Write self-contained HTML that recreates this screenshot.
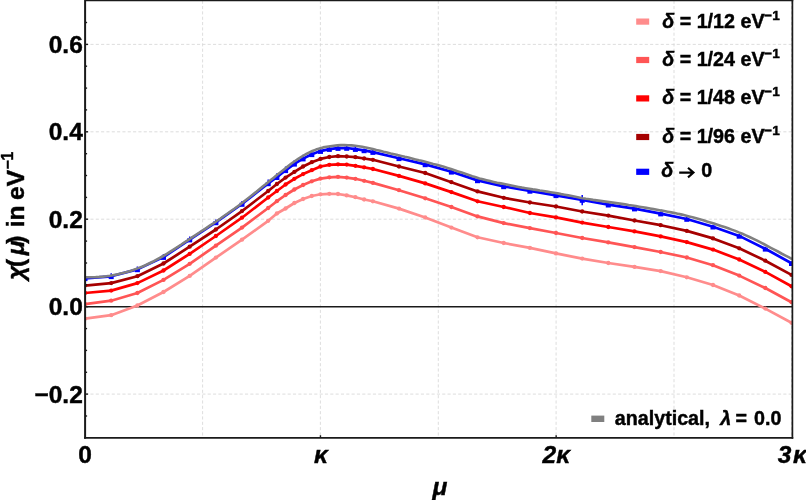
<!DOCTYPE html>
<html><head><meta charset="utf-8"><title>chart</title>
<style>html,body{margin:0;padding:0;background:#fff;}body{width:806px;height:500px;position:relative;overflow:hidden;font-family:"Liberation Sans",sans-serif;}</style>
</head><body>
<svg width="806" height="500" viewBox="0 0 806 500" style="position:absolute;left:0;top:0">
<rect x="0" y="0" width="806" height="500" fill="#fff"/>
<g stroke="#d4d4d4" stroke-width="0.8" stroke-dasharray="3.1 2.23" fill="none">
<line x1="202.6" y1="0.7" x2="202.6" y2="437.9"/>
<line x1="320.4" y1="0.7" x2="320.4" y2="437.9"/>
<line x1="438.3" y1="0.7" x2="438.3" y2="437.9"/>
<line x1="556.1" y1="0.7" x2="556.1" y2="437.9"/>
<line x1="674.0" y1="0.7" x2="674.0" y2="437.9"/>
<line x1="791.5" y1="0.7" x2="791.5" y2="437.9"/>
<line x1="85.1" y1="44.4" x2="792.4" y2="44.4"/>
<line x1="85.1" y1="131.8" x2="792.4" y2="131.8"/>
<line x1="85.1" y1="219.2" x2="792.4" y2="219.2"/>
<line x1="85.1" y1="394.1" x2="792.4" y2="394.1"/>
</g>
<line x1="85.1" y1="306.7" x2="792.4" y2="306.7" stroke="#1a1a1a" stroke-width="1.5"/>
<clipPath id="cp"><rect x="85.1" y="0.7" width="707.8" height="437.2"/></clipPath>
<g clip-path="url(#cp)">
<path d="M85.0 318.7 L111.2 315.2 L137.4 305.5 L163.5 292.0 L189.7 275.9 L215.9 257.6 L242.0 239.7 L268.2 220.8 L276.9 213.5 L285.6 208.5 L294.4 203.0 L303.1 199.0 L311.8 196.0 L320.5 194.3 L329.3 193.8 L338.0 194.0 L346.7 195.4 L355.4 197.2 L364.1 199.5 L372.9 201.3 L399.0 208.6 L425.2 217.5 L451.4 227.6 L477.5 237.3 L503.7 243.0 L529.9 247.9 L556.0 253.4 L582.2 258.6 L608.3 263.0 L634.5 266.9 L660.7 271.1 L686.8 277.3 L713.0 285.0 L739.2 295.5 L765.3 308.6 L791.5 322.8" fill="none" stroke="#ff8c8c" stroke-width="2.7" stroke-linejoin="round"/>
<circle cx="85.0" cy="318.7" r="2.15" fill="#ff8c8c"/>
<circle cx="111.2" cy="315.2" r="2.15" fill="#ff8c8c"/>
<circle cx="137.4" cy="305.5" r="2.15" fill="#ff8c8c"/>
<circle cx="163.5" cy="292.0" r="2.15" fill="#ff8c8c"/>
<circle cx="189.7" cy="275.9" r="2.15" fill="#ff8c8c"/>
<circle cx="215.9" cy="257.6" r="2.15" fill="#ff8c8c"/>
<circle cx="242.0" cy="239.7" r="2.15" fill="#ff8c8c"/>
<circle cx="268.2" cy="220.8" r="2.15" fill="#ff8c8c"/>
<circle cx="276.9" cy="213.5" r="2.15" fill="#ff8c8c"/>
<circle cx="285.6" cy="208.5" r="2.15" fill="#ff8c8c"/>
<circle cx="294.4" cy="203.0" r="2.15" fill="#ff8c8c"/>
<circle cx="303.1" cy="199.0" r="2.15" fill="#ff8c8c"/>
<circle cx="311.8" cy="196.0" r="2.15" fill="#ff8c8c"/>
<circle cx="320.5" cy="194.3" r="2.15" fill="#ff8c8c"/>
<circle cx="329.3" cy="193.8" r="2.15" fill="#ff8c8c"/>
<circle cx="338.0" cy="194.0" r="2.15" fill="#ff8c8c"/>
<circle cx="346.7" cy="195.4" r="2.15" fill="#ff8c8c"/>
<circle cx="355.4" cy="197.2" r="2.15" fill="#ff8c8c"/>
<circle cx="364.1" cy="199.5" r="2.15" fill="#ff8c8c"/>
<circle cx="372.9" cy="201.3" r="2.15" fill="#ff8c8c"/>
<circle cx="399.0" cy="208.6" r="2.15" fill="#ff8c8c"/>
<circle cx="425.2" cy="217.5" r="2.15" fill="#ff8c8c"/>
<circle cx="451.4" cy="227.6" r="2.15" fill="#ff8c8c"/>
<circle cx="477.5" cy="237.3" r="2.15" fill="#ff8c8c"/>
<circle cx="503.7" cy="243.0" r="2.15" fill="#ff8c8c"/>
<circle cx="529.9" cy="247.9" r="2.15" fill="#ff8c8c"/>
<circle cx="556.0" cy="253.4" r="2.15" fill="#ff8c8c"/>
<circle cx="582.2" cy="258.6" r="2.15" fill="#ff8c8c"/>
<circle cx="608.3" cy="263.0" r="2.15" fill="#ff8c8c"/>
<circle cx="634.5" cy="266.9" r="2.15" fill="#ff8c8c"/>
<circle cx="660.7" cy="271.1" r="2.15" fill="#ff8c8c"/>
<circle cx="686.8" cy="277.3" r="2.15" fill="#ff8c8c"/>
<circle cx="713.0" cy="285.0" r="2.15" fill="#ff8c8c"/>
<circle cx="739.2" cy="295.5" r="2.15" fill="#ff8c8c"/>
<circle cx="765.3" cy="308.6" r="2.15" fill="#ff8c8c"/>
<circle cx="791.5" cy="322.8" r="2.15" fill="#ff8c8c"/>
<path d="M85.0 304.2 L111.2 300.7 L137.4 293.0 L163.5 279.9 L189.7 263.8 L215.9 245.7 L242.0 227.6 L268.2 208.0 L276.9 201.2 L285.6 195.0 L294.4 189.5 L303.1 185.0 L311.8 181.3 L320.5 178.6 L329.3 177.3 L338.0 176.8 L346.7 177.6 L355.4 178.8 L364.1 180.8 L372.9 182.9 L399.0 190.2 L425.2 198.3 L451.4 207.0 L477.5 216.4 L503.7 223.1 L529.9 228.1 L556.0 233.0 L582.2 238.0 L608.3 242.4 L634.5 247.1 L660.7 252.0 L686.8 257.5 L713.0 265.2 L739.2 275.6 L765.3 288.0 L791.5 302.2" fill="none" stroke="#ff5555" stroke-width="2.7" stroke-linejoin="round"/>
<circle cx="85.0" cy="304.2" r="2.15" fill="#ff5555"/>
<circle cx="111.2" cy="300.7" r="2.15" fill="#ff5555"/>
<circle cx="137.4" cy="293.0" r="2.15" fill="#ff5555"/>
<circle cx="163.5" cy="279.9" r="2.15" fill="#ff5555"/>
<circle cx="189.7" cy="263.8" r="2.15" fill="#ff5555"/>
<circle cx="215.9" cy="245.7" r="2.15" fill="#ff5555"/>
<circle cx="242.0" cy="227.6" r="2.15" fill="#ff5555"/>
<circle cx="268.2" cy="208.0" r="2.15" fill="#ff5555"/>
<circle cx="276.9" cy="201.2" r="2.15" fill="#ff5555"/>
<circle cx="285.6" cy="195.0" r="2.15" fill="#ff5555"/>
<circle cx="294.4" cy="189.5" r="2.15" fill="#ff5555"/>
<circle cx="303.1" cy="185.0" r="2.15" fill="#ff5555"/>
<circle cx="311.8" cy="181.3" r="2.15" fill="#ff5555"/>
<circle cx="320.5" cy="178.6" r="2.15" fill="#ff5555"/>
<circle cx="329.3" cy="177.3" r="2.15" fill="#ff5555"/>
<circle cx="338.0" cy="176.8" r="2.15" fill="#ff5555"/>
<circle cx="346.7" cy="177.6" r="2.15" fill="#ff5555"/>
<circle cx="355.4" cy="178.8" r="2.15" fill="#ff5555"/>
<circle cx="364.1" cy="180.8" r="2.15" fill="#ff5555"/>
<circle cx="372.9" cy="182.9" r="2.15" fill="#ff5555"/>
<circle cx="399.0" cy="190.2" r="2.15" fill="#ff5555"/>
<circle cx="425.2" cy="198.3" r="2.15" fill="#ff5555"/>
<circle cx="451.4" cy="207.0" r="2.15" fill="#ff5555"/>
<circle cx="477.5" cy="216.4" r="2.15" fill="#ff5555"/>
<circle cx="503.7" cy="223.1" r="2.15" fill="#ff5555"/>
<circle cx="529.9" cy="228.1" r="2.15" fill="#ff5555"/>
<circle cx="556.0" cy="233.0" r="2.15" fill="#ff5555"/>
<circle cx="582.2" cy="238.0" r="2.15" fill="#ff5555"/>
<circle cx="608.3" cy="242.4" r="2.15" fill="#ff5555"/>
<circle cx="634.5" cy="247.1" r="2.15" fill="#ff5555"/>
<circle cx="660.7" cy="252.0" r="2.15" fill="#ff5555"/>
<circle cx="686.8" cy="257.5" r="2.15" fill="#ff5555"/>
<circle cx="713.0" cy="265.2" r="2.15" fill="#ff5555"/>
<circle cx="739.2" cy="275.6" r="2.15" fill="#ff5555"/>
<circle cx="765.3" cy="288.0" r="2.15" fill="#ff5555"/>
<circle cx="791.5" cy="302.2" r="2.15" fill="#ff5555"/>
<path d="M85.0 293.0 L111.2 290.6 L137.4 283.1 L163.5 270.5 L189.7 253.8 L215.9 236.0 L242.0 217.7 L268.2 197.5 L276.9 191.0 L285.6 184.5 L294.4 178.8 L303.1 174.1 L311.8 170.2 L320.5 166.5 L329.3 164.8 L338.0 164.3 L346.7 164.6 L355.4 165.8 L364.1 167.3 L372.9 169.0 L399.0 175.9 L425.2 183.4 L451.4 192.1 L477.5 201.3 L503.7 207.0 L529.9 213.0 L556.0 217.4 L582.2 222.6 L608.3 227.0 L634.5 231.4 L660.7 236.4 L686.8 242.1 L713.0 249.6 L739.2 259.5 L765.3 271.9 L791.5 286.3" fill="none" stroke="#ff0000" stroke-width="2.7" stroke-linejoin="round"/>
<circle cx="85.0" cy="293.0" r="2.15" fill="#ff0000"/>
<circle cx="111.2" cy="290.6" r="2.15" fill="#ff0000"/>
<circle cx="137.4" cy="283.1" r="2.15" fill="#ff0000"/>
<circle cx="163.5" cy="270.5" r="2.15" fill="#ff0000"/>
<circle cx="189.7" cy="253.8" r="2.15" fill="#ff0000"/>
<circle cx="215.9" cy="236.0" r="2.15" fill="#ff0000"/>
<circle cx="242.0" cy="217.7" r="2.15" fill="#ff0000"/>
<circle cx="268.2" cy="197.5" r="2.15" fill="#ff0000"/>
<circle cx="276.9" cy="191.0" r="2.15" fill="#ff0000"/>
<circle cx="285.6" cy="184.5" r="2.15" fill="#ff0000"/>
<circle cx="294.4" cy="178.8" r="2.15" fill="#ff0000"/>
<circle cx="303.1" cy="174.1" r="2.15" fill="#ff0000"/>
<circle cx="311.8" cy="170.2" r="2.15" fill="#ff0000"/>
<circle cx="320.5" cy="166.5" r="2.15" fill="#ff0000"/>
<circle cx="329.3" cy="164.8" r="2.15" fill="#ff0000"/>
<circle cx="338.0" cy="164.3" r="2.15" fill="#ff0000"/>
<circle cx="346.7" cy="164.6" r="2.15" fill="#ff0000"/>
<circle cx="355.4" cy="165.8" r="2.15" fill="#ff0000"/>
<circle cx="364.1" cy="167.3" r="2.15" fill="#ff0000"/>
<circle cx="372.9" cy="169.0" r="2.15" fill="#ff0000"/>
<circle cx="399.0" cy="175.9" r="2.15" fill="#ff0000"/>
<circle cx="425.2" cy="183.4" r="2.15" fill="#ff0000"/>
<circle cx="451.4" cy="192.1" r="2.15" fill="#ff0000"/>
<circle cx="477.5" cy="201.3" r="2.15" fill="#ff0000"/>
<circle cx="503.7" cy="207.0" r="2.15" fill="#ff0000"/>
<circle cx="529.9" cy="213.0" r="2.15" fill="#ff0000"/>
<circle cx="556.0" cy="217.4" r="2.15" fill="#ff0000"/>
<circle cx="582.2" cy="222.6" r="2.15" fill="#ff0000"/>
<circle cx="608.3" cy="227.0" r="2.15" fill="#ff0000"/>
<circle cx="634.5" cy="231.4" r="2.15" fill="#ff0000"/>
<circle cx="660.7" cy="236.4" r="2.15" fill="#ff0000"/>
<circle cx="686.8" cy="242.1" r="2.15" fill="#ff0000"/>
<circle cx="713.0" cy="249.6" r="2.15" fill="#ff0000"/>
<circle cx="739.2" cy="259.5" r="2.15" fill="#ff0000"/>
<circle cx="765.3" cy="271.9" r="2.15" fill="#ff0000"/>
<circle cx="791.5" cy="286.3" r="2.15" fill="#ff0000"/>
<path d="M85.0 285.6 L111.2 283.1 L137.4 276.2 L163.5 263.5 L189.7 246.7 L215.9 229.5 L242.0 211.1 L268.2 191.0 L276.9 184.0 L285.6 177.6 L294.4 171.9 L303.1 166.5 L311.8 162.2 L320.5 158.9 L329.3 157.0 L338.0 156.2 L346.7 156.5 L355.4 157.2 L364.1 158.5 L372.9 159.8 L399.0 166.5 L425.2 173.0 L451.4 182.2 L477.5 191.4 L503.7 197.8 L529.9 202.5 L556.0 206.5 L582.2 211.5 L608.3 215.6 L634.5 220.5 L660.7 225.2 L686.8 230.9 L713.0 238.4 L739.2 248.3 L765.3 260.7 L791.5 274.9" fill="none" stroke="#a60000" stroke-width="2.7" stroke-linejoin="round"/>
<circle cx="85.0" cy="285.6" r="2.15" fill="#a60000"/>
<circle cx="111.2" cy="283.1" r="2.15" fill="#a60000"/>
<circle cx="137.4" cy="276.2" r="2.15" fill="#a60000"/>
<circle cx="163.5" cy="263.5" r="2.15" fill="#a60000"/>
<circle cx="189.7" cy="246.7" r="2.15" fill="#a60000"/>
<circle cx="215.9" cy="229.5" r="2.15" fill="#a60000"/>
<circle cx="242.0" cy="211.1" r="2.15" fill="#a60000"/>
<circle cx="268.2" cy="191.0" r="2.15" fill="#a60000"/>
<circle cx="276.9" cy="184.0" r="2.15" fill="#a60000"/>
<circle cx="285.6" cy="177.6" r="2.15" fill="#a60000"/>
<circle cx="294.4" cy="171.9" r="2.15" fill="#a60000"/>
<circle cx="303.1" cy="166.5" r="2.15" fill="#a60000"/>
<circle cx="311.8" cy="162.2" r="2.15" fill="#a60000"/>
<circle cx="320.5" cy="158.9" r="2.15" fill="#a60000"/>
<circle cx="329.3" cy="157.0" r="2.15" fill="#a60000"/>
<circle cx="338.0" cy="156.2" r="2.15" fill="#a60000"/>
<circle cx="346.7" cy="156.5" r="2.15" fill="#a60000"/>
<circle cx="355.4" cy="157.2" r="2.15" fill="#a60000"/>
<circle cx="364.1" cy="158.5" r="2.15" fill="#a60000"/>
<circle cx="372.9" cy="159.8" r="2.15" fill="#a60000"/>
<circle cx="399.0" cy="166.5" r="2.15" fill="#a60000"/>
<circle cx="425.2" cy="173.0" r="2.15" fill="#a60000"/>
<circle cx="451.4" cy="182.2" r="2.15" fill="#a60000"/>
<circle cx="477.5" cy="191.4" r="2.15" fill="#a60000"/>
<circle cx="503.7" cy="197.8" r="2.15" fill="#a60000"/>
<circle cx="529.9" cy="202.5" r="2.15" fill="#a60000"/>
<circle cx="556.0" cy="206.5" r="2.15" fill="#a60000"/>
<circle cx="582.2" cy="211.5" r="2.15" fill="#a60000"/>
<circle cx="608.3" cy="215.6" r="2.15" fill="#a60000"/>
<circle cx="634.5" cy="220.5" r="2.15" fill="#a60000"/>
<circle cx="660.7" cy="225.2" r="2.15" fill="#a60000"/>
<circle cx="686.8" cy="230.9" r="2.15" fill="#a60000"/>
<circle cx="713.0" cy="238.4" r="2.15" fill="#a60000"/>
<circle cx="739.2" cy="248.3" r="2.15" fill="#a60000"/>
<circle cx="765.3" cy="260.7" r="2.15" fill="#a60000"/>
<circle cx="791.5" cy="274.9" r="2.15" fill="#a60000"/>
<path d="M85.0 278.3 L111.2 276.3 L137.4 269.4 L163.5 257.1 L189.7 239.6 L215.9 222.4 L242.0 204.0 L268.2 183.4 L276.9 177.2 L285.6 170.3 L294.4 163.8 L303.1 158.6 L311.8 154.3 L320.5 151.1 L329.3 149.1 L338.0 148.1 L346.7 148.0 L355.4 149.1 L364.1 150.4 L372.9 152.1 L399.0 158.3 L425.2 164.4 L451.4 171.8 L477.5 180.4 L503.7 186.4 L529.9 190.9 L556.0 195.3 L582.2 200.0 L608.3 204.7 L634.5 208.6 L660.7 213.6 L686.8 219.0 L713.0 226.7 L739.2 235.9 L765.3 248.8 L791.5 263.2" fill="none" stroke="#0000ff" stroke-width="2.7" stroke-linejoin="round"/>
<line x1="85.0" y1="275.3" x2="85.0" y2="278.3" stroke="#0000ff" stroke-width="1.5"/>
<rect x="82.5" y="277.0" width="5" height="4.1" fill="#0000ff"/>
<line x1="111.2" y1="273.3" x2="111.2" y2="276.3" stroke="#0000ff" stroke-width="1.5"/>
<rect x="108.7" y="275.0" width="5" height="4.1" fill="#0000ff"/>
<line x1="137.4" y1="266.4" x2="137.4" y2="269.4" stroke="#0000ff" stroke-width="1.5"/>
<rect x="134.9" y="268.1" width="5" height="4.1" fill="#0000ff"/>
<line x1="163.5" y1="254.1" x2="163.5" y2="257.1" stroke="#0000ff" stroke-width="1.5"/>
<rect x="161.0" y="255.8" width="5" height="4.1" fill="#0000ff"/>
<line x1="189.7" y1="236.6" x2="189.7" y2="239.6" stroke="#0000ff" stroke-width="1.5"/>
<rect x="187.2" y="238.3" width="5" height="4.1" fill="#0000ff"/>
<line x1="215.9" y1="219.4" x2="215.9" y2="222.4" stroke="#0000ff" stroke-width="1.5"/>
<rect x="213.4" y="221.1" width="5" height="4.1" fill="#0000ff"/>
<line x1="242.0" y1="201.0" x2="242.0" y2="204.0" stroke="#0000ff" stroke-width="1.5"/>
<rect x="239.5" y="202.7" width="5" height="4.1" fill="#0000ff"/>
<line x1="268.2" y1="179.5" x2="268.2" y2="183.4" stroke="#0000ff" stroke-width="1.5"/>
<rect x="265.7" y="182.1" width="5" height="4.1" fill="#0000ff"/>
<line x1="276.9" y1="173.3" x2="276.9" y2="177.2" stroke="#0000ff" stroke-width="1.5"/>
<rect x="274.4" y="175.9" width="5" height="4.1" fill="#0000ff"/>
<line x1="285.6" y1="166.4" x2="285.6" y2="170.3" stroke="#0000ff" stroke-width="1.5"/>
<rect x="283.1" y="169.0" width="5" height="4.1" fill="#0000ff"/>
<line x1="294.4" y1="159.9" x2="294.4" y2="163.8" stroke="#0000ff" stroke-width="1.5"/>
<rect x="291.9" y="162.5" width="5" height="4.1" fill="#0000ff"/>
<line x1="303.1" y1="154.7" x2="303.1" y2="158.6" stroke="#0000ff" stroke-width="1.5"/>
<rect x="300.6" y="157.3" width="5" height="4.1" fill="#0000ff"/>
<line x1="311.8" y1="150.4" x2="311.8" y2="154.3" stroke="#0000ff" stroke-width="1.5"/>
<rect x="309.3" y="153.0" width="5" height="4.1" fill="#0000ff"/>
<line x1="320.5" y1="147.2" x2="320.5" y2="151.1" stroke="#0000ff" stroke-width="1.5"/>
<rect x="318.0" y="149.8" width="5" height="4.1" fill="#0000ff"/>
<line x1="329.3" y1="147.1" x2="329.3" y2="149.1" stroke="#0000ff" stroke-width="1.5"/>
<rect x="326.8" y="147.8" width="5" height="4.1" fill="#0000ff"/>
<line x1="338.0" y1="146.1" x2="338.0" y2="148.1" stroke="#0000ff" stroke-width="1.5"/>
<rect x="335.5" y="146.8" width="5" height="4.1" fill="#0000ff"/>
<line x1="346.7" y1="146.0" x2="346.7" y2="148.0" stroke="#0000ff" stroke-width="1.5"/>
<rect x="344.2" y="146.7" width="5" height="4.1" fill="#0000ff"/>
<line x1="355.4" y1="147.1" x2="355.4" y2="149.1" stroke="#0000ff" stroke-width="1.5"/>
<rect x="352.9" y="147.8" width="5" height="4.1" fill="#0000ff"/>
<line x1="364.1" y1="148.4" x2="364.1" y2="150.4" stroke="#0000ff" stroke-width="1.5"/>
<rect x="361.6" y="149.1" width="5" height="4.1" fill="#0000ff"/>
<line x1="372.9" y1="150.1" x2="372.9" y2="152.1" stroke="#0000ff" stroke-width="1.5"/>
<rect x="370.4" y="150.8" width="5" height="4.1" fill="#0000ff"/>
<line x1="399.0" y1="156.3" x2="399.0" y2="158.3" stroke="#0000ff" stroke-width="1.5"/>
<rect x="396.5" y="157.0" width="5" height="4.1" fill="#0000ff"/>
<line x1="425.2" y1="162.4" x2="425.2" y2="164.4" stroke="#0000ff" stroke-width="1.5"/>
<rect x="422.7" y="163.1" width="5" height="4.1" fill="#0000ff"/>
<line x1="451.4" y1="169.8" x2="451.4" y2="171.8" stroke="#0000ff" stroke-width="1.5"/>
<rect x="448.9" y="170.5" width="5" height="4.1" fill="#0000ff"/>
<line x1="477.5" y1="178.4" x2="477.5" y2="180.4" stroke="#0000ff" stroke-width="1.5"/>
<rect x="475.0" y="179.1" width="5" height="4.1" fill="#0000ff"/>
<line x1="503.7" y1="184.4" x2="503.7" y2="186.4" stroke="#0000ff" stroke-width="1.5"/>
<rect x="501.2" y="185.1" width="5" height="4.1" fill="#0000ff"/>
<line x1="529.9" y1="188.9" x2="529.9" y2="190.9" stroke="#0000ff" stroke-width="1.5"/>
<rect x="527.4" y="189.6" width="5" height="4.1" fill="#0000ff"/>
<line x1="556.0" y1="193.3" x2="556.0" y2="195.3" stroke="#0000ff" stroke-width="1.5"/>
<rect x="553.5" y="194.0" width="5" height="4.1" fill="#0000ff"/>
<line x1="582.2" y1="195.0" x2="582.2" y2="205.2" stroke="#0000ff" stroke-width="1.5"/>
<rect x="579.7" y="198.7" width="5" height="4.1" fill="#0000ff"/>
<line x1="608.3" y1="202.7" x2="608.3" y2="204.7" stroke="#0000ff" stroke-width="1.5"/>
<rect x="605.8" y="203.4" width="5" height="4.1" fill="#0000ff"/>
<line x1="634.5" y1="206.6" x2="634.5" y2="208.6" stroke="#0000ff" stroke-width="1.5"/>
<rect x="632.0" y="207.3" width="5" height="4.1" fill="#0000ff"/>
<line x1="660.7" y1="211.6" x2="660.7" y2="213.6" stroke="#0000ff" stroke-width="1.5"/>
<rect x="658.2" y="212.3" width="5" height="4.1" fill="#0000ff"/>
<line x1="686.8" y1="217.0" x2="686.8" y2="219.0" stroke="#0000ff" stroke-width="1.5"/>
<rect x="684.3" y="217.7" width="5" height="4.1" fill="#0000ff"/>
<line x1="713.0" y1="224.7" x2="713.0" y2="226.7" stroke="#0000ff" stroke-width="1.5"/>
<rect x="710.5" y="225.4" width="5" height="4.1" fill="#0000ff"/>
<line x1="739.2" y1="233.9" x2="739.2" y2="235.9" stroke="#0000ff" stroke-width="1.5"/>
<rect x="736.7" y="234.6" width="5" height="4.1" fill="#0000ff"/>
<line x1="765.3" y1="246.8" x2="765.3" y2="248.8" stroke="#0000ff" stroke-width="1.5"/>
<rect x="762.8" y="247.5" width="5" height="4.1" fill="#0000ff"/>
<line x1="791.5" y1="261.2" x2="791.5" y2="263.2" stroke="#0000ff" stroke-width="1.5"/>
<rect x="789.0" y="261.9" width="5" height="4.1" fill="#0000ff"/>
<path d="M85.0 277.2 L88.6 277.3 L92.2 277.2 L95.7 277.1 L99.3 276.9 L102.8 276.6 L106.4 276.2 L109.9 275.7 L113.5 275.1 L117.0 274.4 L120.6 273.6 L124.1 272.8 L127.7 271.8 L131.2 270.7 L134.8 269.4 L138.3 268.1 L141.9 266.7 L145.5 265.2 L149.0 263.5 L152.6 261.8 L156.1 259.9 L159.7 258.0 L163.2 256.0 L166.8 253.9 L170.3 251.7 L173.9 249.4 L177.4 247.1 L181.0 244.8 L184.5 242.4 L188.1 240.1 L191.6 237.7 L195.2 235.4 L198.7 233.0 L202.3 230.7 L205.9 228.3 L209.4 225.9 L213.0 223.6 L216.5 221.2 L220.1 218.8 L223.6 216.3 L227.2 213.8 L230.7 211.3 L234.3 208.8 L237.8 206.2 L241.4 203.5 L244.9 200.8 L248.5 198.0 L252.0 195.2 L255.6 192.4 L259.1 189.5 L262.7 186.6 L266.3 183.7 L269.8 180.8 L273.4 177.9 L276.9 175.0 L280.5 172.2 L284.0 169.4 L287.6 166.6 L291.1 163.8 L294.7 161.2 L298.2 158.8 L301.8 156.6 L305.3 154.5 L308.9 152.7 L312.4 151.0 L316.0 149.6 L319.6 148.4 L323.1 147.4 L326.7 146.7 L330.2 146.2 L333.8 145.7 L337.3 145.4 L340.9 145.1 L344.4 145.1 L348.0 145.2 L351.5 145.4 L355.1 145.8 L358.6 146.2 L362.2 146.7 L365.7 147.4 L369.3 148.2 L372.8 149.1 L376.4 150.0 L380.0 150.8 L383.5 151.7 L387.1 152.5 L390.6 153.4 L394.2 154.2 L397.7 155.1 L401.3 155.9 L404.8 156.8 L408.4 157.6 L411.9 158.5 L415.5 159.4 L419.0 160.3 L422.6 161.1 L426.1 162.0 L429.7 162.9 L433.2 163.9 L436.8 164.8 L440.4 165.8 L443.9 166.8 L447.5 167.9 L451.0 169.0 L454.6 170.2 L458.1 171.4 L461.7 172.6 L465.2 173.8 L468.8 175.0 L472.3 176.2 L475.9 177.3 L479.4 178.4 L483.0 179.3 L486.5 180.2 L490.1 181.1 L493.6 181.9 L497.2 182.7 L500.8 183.4 L504.3 184.1 L507.9 184.8 L511.4 185.5 L515.0 186.2 L518.5 186.9 L522.1 187.6 L525.6 188.2 L529.2 188.8 L532.7 189.4 L536.3 189.9 L539.8 190.5 L543.4 191.0 L546.9 191.6 L550.5 192.2 L554.1 192.8 L557.6 193.4 L561.2 194.1 L564.7 194.7 L568.3 195.4 L571.8 196.1 L575.4 196.8 L578.9 197.5 L582.5 198.2 L586.0 198.8 L589.6 199.3 L593.1 199.9 L596.7 200.4 L600.2 200.9 L603.8 201.4 L607.3 201.9 L610.9 202.4 L614.5 202.9 L618.0 203.4 L621.6 203.9 L625.1 204.4 L628.7 205.0 L632.2 205.5 L635.8 206.1 L639.3 206.7 L642.9 207.3 L646.4 207.9 L650.0 208.5 L653.5 209.1 L657.1 209.7 L660.6 210.4 L664.2 211.0 L667.7 211.7 L671.3 212.4 L674.9 213.1 L678.4 213.9 L682.0 214.6 L685.5 215.5 L689.1 216.4 L692.6 217.3 L696.2 218.3 L699.7 219.3 L703.3 220.3 L706.8 221.4 L710.4 222.5 L713.9 223.6 L717.5 224.7 L721.0 225.9 L724.6 227.1 L728.2 228.3 L731.7 229.6 L735.3 230.9 L738.8 232.4 L742.4 233.8 L745.9 235.4 L749.5 237.0 L753.0 238.7 L756.6 240.4 L760.1 242.2 L763.7 244.0 L767.2 245.9 L770.8 247.8 L774.3 249.6 L777.9 251.5 L781.4 253.5 L785.0 255.4 L788.6 257.2 L792.1 259.1" fill="none" stroke="#808080" stroke-width="2.6" stroke-linejoin="round"/>
</g>
<g stroke="#1a1a1a" fill="none">
<line x1="85.10" y1="0" x2="85.10" y2="438.70" stroke-width="2"/>
<line x1="85.10" y1="0.3" x2="793.25" y2="0.3" stroke-width="1.7"/>
<line x1="792.40" y1="0" x2="792.40" y2="438.70" stroke-width="1.7"/>
<line x1="84.10" y1="437.85" x2="793.25" y2="437.85" stroke-width="1.7"/>
<line x1="320.45" y1="437.85" x2="320.45" y2="435.25" stroke-width="1.4"/>
<line x1="556.15" y1="437.85" x2="556.15" y2="435.25" stroke-width="1.4"/>
<line x1="85.1" y1="416.0" x2="87.1" y2="416.0" stroke-width="1.4"/>
<line x1="85.1" y1="394.1" x2="88.1" y2="394.1" stroke-width="1.4"/>
<line x1="85.1" y1="372.3" x2="87.1" y2="372.3" stroke-width="1.4"/>
<line x1="85.1" y1="350.4" x2="87.1" y2="350.4" stroke-width="1.4"/>
<line x1="85.1" y1="328.6" x2="87.1" y2="328.6" stroke-width="1.4"/>
<line x1="85.1" y1="306.7" x2="88.1" y2="306.7" stroke-width="1.4"/>
<line x1="85.1" y1="284.8" x2="87.1" y2="284.8" stroke-width="1.4"/>
<line x1="85.1" y1="263.0" x2="87.1" y2="263.0" stroke-width="1.4"/>
<line x1="85.1" y1="241.1" x2="87.1" y2="241.1" stroke-width="1.4"/>
<line x1="85.1" y1="219.2" x2="88.1" y2="219.2" stroke-width="1.4"/>
<line x1="85.1" y1="197.4" x2="87.1" y2="197.4" stroke-width="1.4"/>
<line x1="85.1" y1="175.5" x2="87.1" y2="175.5" stroke-width="1.4"/>
<line x1="85.1" y1="153.7" x2="87.1" y2="153.7" stroke-width="1.4"/>
<line x1="85.1" y1="131.8" x2="88.1" y2="131.8" stroke-width="1.4"/>
<line x1="85.1" y1="109.9" x2="87.1" y2="109.9" stroke-width="1.4"/>
<line x1="85.1" y1="88.1" x2="87.1" y2="88.1" stroke-width="1.4"/>
<line x1="85.1" y1="66.2" x2="87.1" y2="66.2" stroke-width="1.4"/>
<line x1="85.1" y1="44.4" x2="88.1" y2="44.4" stroke-width="1.4"/>
<line x1="85.1" y1="22.5" x2="87.1" y2="22.5" stroke-width="1.4"/>
</g>
<g font-family="'Liberation Sans', sans-serif" font-weight="bold" fill="#000" stroke="#000" stroke-width="0.45" opacity="0.999">
<text x="82.8" y="53.0" font-size="24.5" text-anchor="end">0.6</text>
<text x="82.8" y="140.4" font-size="24.5" text-anchor="end">0.4</text>
<text x="82.8" y="227.8" font-size="24.5" text-anchor="end">0.2</text>
<text x="82.8" y="315.3" font-size="24.5" text-anchor="end">0.0</text>
<text x="82.8" y="402.7" font-size="24.5" text-anchor="end">−0.2</text>
<text x="85.1" y="462.5" font-size="24.5" text-anchor="middle">0</text>
<text x="320.9" y="462.5" font-size="24.5" text-anchor="middle" font-style="italic">κ</text>
<text x="556.3" y="462.5" font-size="24.5" text-anchor="middle" font-style="italic">2κ</text>
<text x="777.8" y="462.5" font-size="24.5" font-style="italic">3<tspan dx="1.5">κ</tspan></text>
<text x="439.8" y="495.0" font-size="24.5" text-anchor="middle" font-style="italic">μ</text>
<text transform="translate(24.4,279.80) rotate(-90)" font-size="24.5" font-style="italic">χ</text>
<text transform="translate(24.4,267.03) rotate(-90)" font-size="24.5">(</text>
<text transform="translate(24.4,255.30) rotate(-90)" font-size="24.5" font-style="italic">μ</text>
<text transform="translate(24.4,243.69) rotate(-90)" font-size="24.5">)</text>
<text transform="translate(24.4,227.35) rotate(-90)" font-size="24.5">in</text>
<text transform="translate(24.4,199.91) rotate(-90)" font-size="24.5">eV</text>
<text transform="translate(12.599999999999998,169.60) rotate(-90)" font-size="15.6">−1</text>
<rect x="636.2" y="18.5" width="13" height="6.2" fill="#ff8c8c" stroke="none"/>
<text x="662.2" y="27.6" font-size="19.7"><tspan font-style="italic">δ</tspan> = 1/12 eV</text>
<text x="779.8" y="19.5" font-size="13.6" text-anchor="end">−1</text>
<rect x="636.2" y="56.9" width="13" height="6.2" fill="#ff5555" stroke="none"/>
<text x="662.2" y="66.0" font-size="19.7"><tspan font-style="italic">δ</tspan> = 1/24 eV</text>
<text x="779.8" y="57.9" font-size="13.6" text-anchor="end">−1</text>
<rect x="636.2" y="95.3" width="13" height="6.2" fill="#ff0000" stroke="none"/>
<text x="662.2" y="104.4" font-size="19.7"><tspan font-style="italic">δ</tspan> = 1/48 eV</text>
<text x="779.8" y="96.3" font-size="13.6" text-anchor="end">−1</text>
<rect x="636.2" y="133.9" width="13" height="6.2" fill="#a60000" stroke="none"/>
<text x="662.2" y="143.0" font-size="19.7"><tspan font-style="italic">δ</tspan> = 1/96 eV</text>
<text x="779.8" y="134.9" font-size="13.6" text-anchor="end">−1</text>
<rect x="636.2" y="168.7" width="13" height="6.2" fill="#0000ff" stroke="none"/>
<text y="177.3" font-size="19.7"><tspan x="661.3" font-style="italic">δ</tspan><tspan x="701.3">0</tspan></text>
<path d="M679.2 172.6 H693 M688 167.8 L693.5 172.6 L688 177.4" fill="none" stroke="#000" stroke-width="2.1" stroke-linejoin="miter"/>
<rect x="591.3" y="415.6" width="13" height="6.4" fill="#808080" stroke="none"/>
<text y="424.6" font-size="19.7"><tspan x="614.8">analytical,</tspan><tspan x="720.3" font-style="italic">λ</tspan><tspan x="735.6">=</tspan><tspan x="754">0.0</tspan></text>
</g>
</svg>
</body></html>
